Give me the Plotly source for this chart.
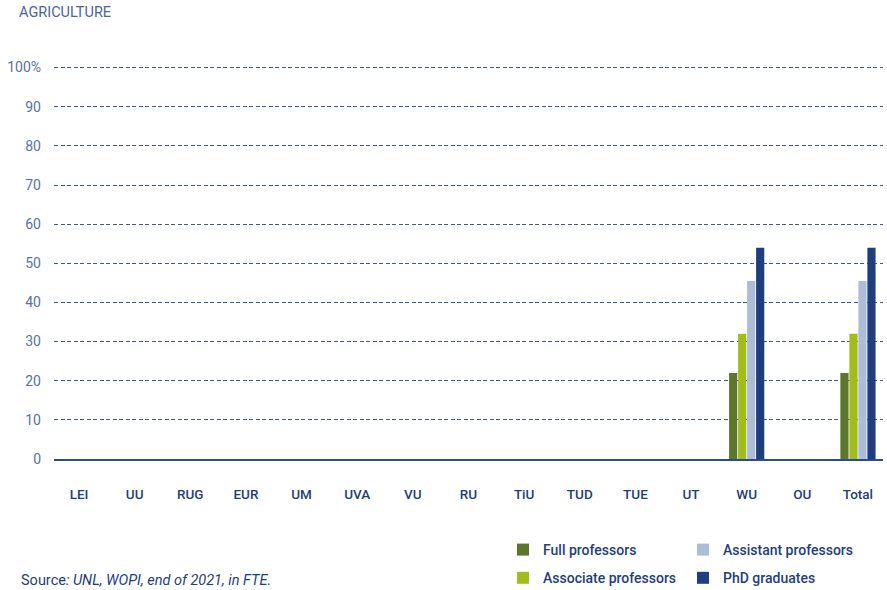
import plotly.graph_objects as go

categories = ["LEI", "UU", "RUG", "EUR", "UM", "UVA", "VU", "RU", "TiU", "TUD", "TUE", "UT", "WU", "OU", "Total"]
full_professors = [0, 0, 0, 0, 0, 0, 0, 0, 0, 0, 0, 0, 22, 0, 22]
associate_professors = [0, 0, 0, 0, 0, 0, 0, 0, 0, 0, 0, 0, 32, 0, 32]
assistant_professors = [0, 0, 0, 0, 0, 0, 0, 0, 0, 0, 0, 0, 45.5, 0, 45.5]
phd_graduates = [0, 0, 0, 0, 0, 0, 0, 0, 0, 0, 0, 0, 54, 0, 54]
y_ticks = [0, 10, 20, 30, 40, 50, 60, 70, 80, 90, 100]
y_ticklabels = ["0", "10", "20", "30", "40", "50", "60", "70", "80", "90", "100%"]

series = [
    ("Full professors", full_professors, "#5c762b", "legend"),
    ("Associate professors", associate_professors, "#a2bd1b", "legend"),
    ("Assistant professors", assistant_professors, "#adbdd7", "legend2"),
    ("PhD graduates", phd_graduates, "#1f3e7e", "legend2"),
]

fig = go.Figure()
for name, vals, color, leg in series:
    fig.add_trace(go.Bar(name=name, x=categories, y=vals, marker_color=color,
                         marker_line_width=0, legend=leg, legendgroup=name))

L, T, B, R, W, H = 54, 66, 131, 4, 887, 590
PW, PH = W - L - R, H - T - B
def px(xp): return (xp - L) / PW
def py(yp): return (H - B - yp) / PH

font_family = "Roboto"
leg_common = dict(orientation="v", xref="container", yref="container",
                  y=1 - 534/590, xanchor="left", yanchor="top",
                  tracegroupgap=7, bgcolor="rgba(0,0,0,0)",
                  font=dict(family=font_family, size=14, color="#1f3e7e", weight=500),
                  itemwidth=30)
fig.update_layout(
    width=W, height=H,
    margin=dict(l=L, r=R, t=T, b=B, autoexpand=False),
    plot_bgcolor="white", paper_bgcolor="white",
    barmode="group", bargap=0.353, bargroupgap=0.09,
    font=dict(family=font_family, color="#4a64a0", size=14),
    showlegend=True,
    legend=dict(x=503/887, **leg_common),
    legend2=dict(x=683/887, **leg_common),
    annotations=[
        dict(text="AGRICULTURE", xref="paper", yref="paper",
             x=px(17), y=py(13), xanchor="left", yanchor="middle", showarrow=False,
             font=dict(family=font_family, size=14.5, color="#4a64a0")),
        dict(text="Source<i>: UNL, WOPI, end of 2021, in FTE.</i>", xref="paper", yref="paper",
             x=px(19), y=py(580), xanchor="left", yanchor="middle", showarrow=False,
             font=dict(family=font_family, size=14.5, color="#1f3e7e")),
    ],
)
fig.update_yaxes(range=[0, 100.4], tickvals=y_ticks, ticktext=y_ticklabels,
                 showgrid=True, gridcolor="#3d5a96", griddash="4px,2.5px", gridwidth=1,
                 zeroline=False, showline=False, ticklabelstandoff=12,
                 tickfont=dict(size=14, color="#5a70a8"), automargin=False)
fig.update_xaxes(showline=True, linecolor="#2d4a8a", linewidth=1.5, range=[-0.45, 14.45],
                 ticks="", ticklabelstandoff=22, automargin=False,
                 tickfont=dict(size=13.5, color="#1f3e7e", weight=500))

fig.write_html("out.html", config={"displayModeBar": False},
               post_script="document.body.style.margin='0';document.body.style.overflow='hidden';")
